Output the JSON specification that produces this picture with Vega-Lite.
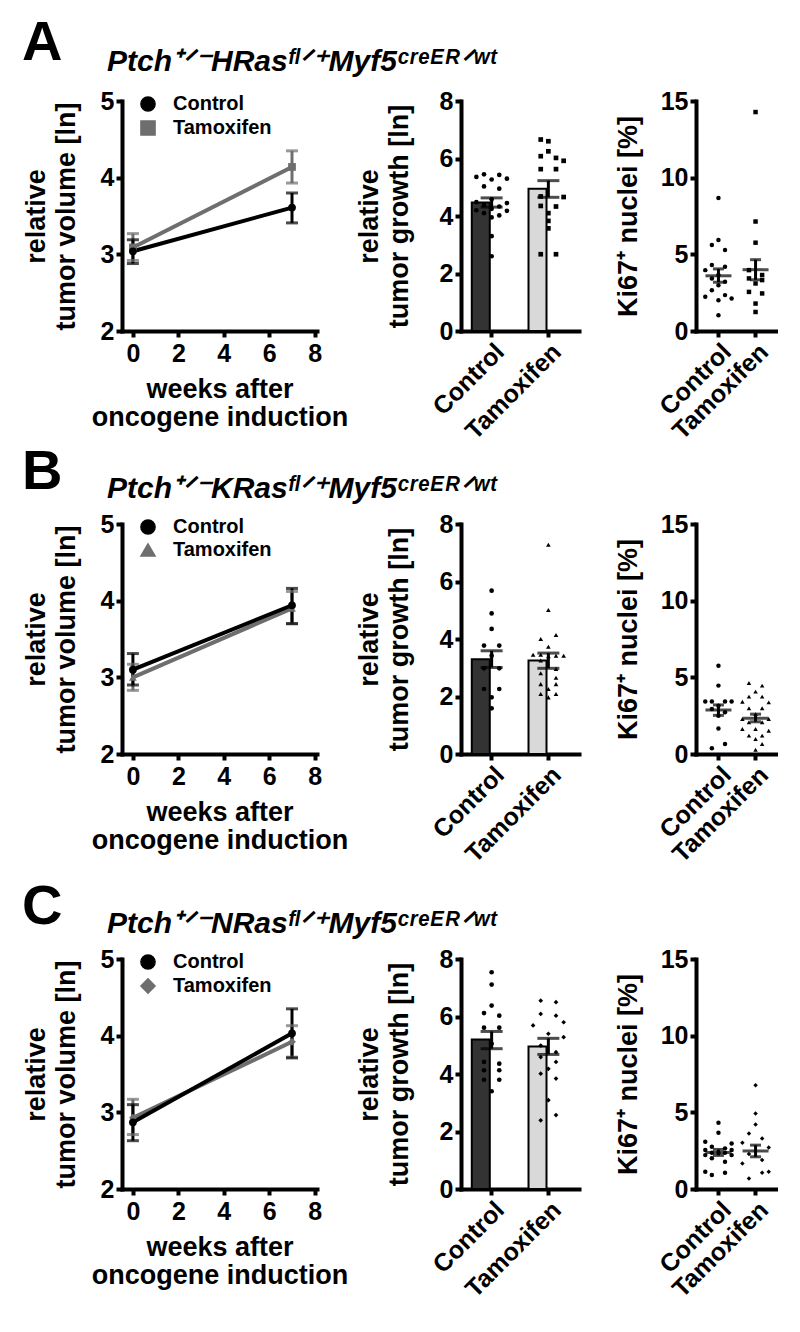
{
"$schema":"https://vega.github.io/schema/vega-lite/v6.json",
"background":"white",
"padding":{"left":22,"top":15,"right":0,"bottom":0},
"config":{
 "font":"Liberation Sans",
 "view":{"stroke":null},
 "axis":{"domainColor":"black","domainWidth":4,"domainCap":"square","tickColor":"black","tickWidth":4,"tickSize":6,"labelColor":"black","labelFont":"Liberation Sans","labelFontSize":25,"labelFontWeight":"bold","labelPadding":2,"titleColor":"black","titleFont":"Liberation Sans","titleFontSize":27,"titleFontWeight":"bold","grid":false,"labelOverlap":false,"labelFlush":false},
 "legend":{"labelFont":"Liberation Sans","symbolOpacity":1},
 "title":{"color":"black","font":"Liberation Sans"}
},
"datasets":{
 "line":[
  {"panel":"A","group":"Tamoxifen","week":0,"mean":3.09,"lo":2.92,"hi":3.27},
  {"panel":"A","group":"Tamoxifen","week":7,"mean":4.14,"lo":3.93,"hi":4.35},
  {"panel":"A","group":"Control","week":0,"mean":3.04,"lo":2.88,"hi":3.19},
  {"panel":"A","group":"Control","week":7,"mean":3.61,"lo":3.41,"hi":3.80},
  {"panel":"B","group":"Tamoxifen","week":0,"mean":3.0,"lo":2.83,"hi":3.17},
  {"panel":"B","group":"Tamoxifen","week":7,"mean":3.9,"lo":3.7,"hi":4.12},
  {"panel":"B","group":"Control","week":0,"mean":3.1,"lo":2.9,"hi":3.31},
  {"panel":"B","group":"Control","week":7,"mean":3.94,"lo":3.7,"hi":4.16},
  {"panel":"C","group":"Tamoxifen","week":0,"mean":2.93,"lo":2.71,"hi":3.17},
  {"panel":"C","group":"Tamoxifen","week":7,"mean":3.92,"lo":3.72,"hi":4.13},
  {"panel":"C","group":"Control","week":0,"mean":2.87,"lo":2.63,"hi":3.1},
  {"panel":"C","group":"Control","week":7,"mean":4.03,"lo":3.71,"hi":4.35}
 ],
 "bar":[
  {"panel":"A","group":"Control","mean":4.47,"lo":4.31,"hi":4.63},
  {"panel":"A","group":"Tamoxifen","mean":4.95,"lo":4.65,"hi":5.23},
  {"panel":"B","group":"Control","mean":3.30,"lo":3.01,"hi":3.59},
  {"panel":"B","group":"Tamoxifen","mean":3.25,"lo":2.98,"hi":3.51},
  {"panel":"C","group":"Control","mean":5.2,"lo":4.88,"hi":5.48},
  {"panel":"C","group":"Tamoxifen","mean":4.96,"lo":4.68,"hi":5.24}
 ],
 "kis":[
  {"panel":"A","group":"Control","mean":3.6,"lo":3.18,"hi":4.05},
  {"panel":"A","group":"Tamoxifen","mean":4.0,"lo":3.34,"hi":4.65},
  {"panel":"B","group":"Control","mean":2.87,"lo":2.52,"hi":3.2},
  {"panel":"B","group":"Tamoxifen","mean":2.33,"lo":2.1,"hi":2.6},
  {"panel":"C","group":"Control","mean":2.38,"lo":2.19,"hi":2.58},
  {"panel":"C","group":"Tamoxifen","mean":2.48,"lo":2.1,"hi":2.86}
 ],
 "pts":[
  {"panel":"A","group":"Control","v":5.45,"slot":-1},{"panel":"A","group":"Control","v":5.43,"slot":1},{"panel":"A","group":"Control","v":5.36,"slot":-2},{"panel":"A","group":"Control","v":5.30,"slot":2},{"panel":"A","group":"Control","v":5.27,"slot":0},{"panel":"A","group":"Control","v":5.03,"slot":-1},{"panel":"A","group":"Control","v":4.95,"slot":1},{"panel":"A","group":"Control","v":4.58,"slot":0},{"panel":"A","group":"Control","v":4.48,"slot":-2},{"panel":"A","group":"Control","v":4.45,"slot":2},{"panel":"A","group":"Control","v":4.38,"slot":-1},{"panel":"A","group":"Control","v":4.33,"slot":1},{"panel":"A","group":"Control","v":4.25,"slot":0},{"panel":"A","group":"Control","v":4.2,"slot":-2},{"panel":"A","group":"Control","v":4.18,"slot":2},{"panel":"A","group":"Control","v":4.1,"slot":-1},{"panel":"A","group":"Control","v":4.02,"slot":1},{"panel":"A","group":"Control","v":3.95,"slot":0},{"panel":"A","group":"Control","v":3.3,"slot":0},{"panel":"A","group":"Control","v":2.6,"slot":0},
  {"panel":"A","group":"Tamoxifen","v":6.66,"slot":-1},{"panel":"A","group":"Tamoxifen","v":6.6,"slot":0},{"panel":"A","group":"Tamoxifen","v":6.25,"slot":0},{"panel":"A","group":"Tamoxifen","v":6.08,"slot":-1},{"panel":"A","group":"Tamoxifen","v":6.02,"slot":1},{"panel":"A","group":"Tamoxifen","v":5.92,"slot":2},{"panel":"A","group":"Tamoxifen","v":5.63,"slot":-1},{"panel":"A","group":"Tamoxifen","v":5.63,"slot":1},{"panel":"A","group":"Tamoxifen","v":4.68,"slot":-1},{"panel":"A","group":"Tamoxifen","v":4.66,"slot":2},{"panel":"A","group":"Tamoxifen","v":4.35,"slot":-1},{"panel":"A","group":"Tamoxifen","v":4.33,"slot":1},{"panel":"A","group":"Tamoxifen","v":4.1,"slot":0},{"panel":"A","group":"Tamoxifen","v":3.83,"slot":0},{"panel":"A","group":"Tamoxifen","v":3.57,"slot":0},{"panel":"A","group":"Tamoxifen","v":2.67,"slot":-1},{"panel":"A","group":"Tamoxifen","v":2.67,"slot":1},
  {"panel":"B","group":"Control","v":5.68,"slot":0},{"panel":"B","group":"Control","v":4.89,"slot":0},{"panel":"B","group":"Control","v":4.35,"slot":0},{"panel":"B","group":"Control","v":3.77,"slot":-1},{"panel":"B","group":"Control","v":3.77,"slot":1},{"panel":"B","group":"Control","v":3.42,"slot":0},{"panel":"B","group":"Control","v":2.98,"slot":-1},{"panel":"B","group":"Control","v":2.98,"slot":1},{"panel":"B","group":"Control","v":2.26,"slot":-1},{"panel":"B","group":"Control","v":2.26,"slot":1},{"panel":"B","group":"Control","v":1.97,"slot":0},{"panel":"B","group":"Control","v":1.59,"slot":0},
  {"panel":"B","group":"Tamoxifen","v":7.28,"slot":0},{"panel":"B","group":"Tamoxifen","v":5.01,"slot":0},{"panel":"B","group":"Tamoxifen","v":4.14,"slot":1},{"panel":"B","group":"Tamoxifen","v":4.0,"slot":-1},{"panel":"B","group":"Tamoxifen","v":3.73,"slot":0},{"panel":"B","group":"Tamoxifen","v":3.45,"slot":-2},{"panel":"B","group":"Tamoxifen","v":3.45,"slot":-1},{"panel":"B","group":"Tamoxifen","v":3.42,"slot":1},{"panel":"B","group":"Tamoxifen","v":3.42,"slot":2},{"panel":"B","group":"Tamoxifen","v":3.40,"slot":0},{"panel":"B","group":"Tamoxifen","v":3.25,"slot":-1},{"panel":"B","group":"Tamoxifen","v":2.96,"slot":1},{"panel":"B","group":"Tamoxifen","v":2.81,"slot":-1},{"panel":"B","group":"Tamoxifen","v":2.65,"slot":1},{"panel":"B","group":"Tamoxifen","v":2.43,"slot":-1},{"panel":"B","group":"Tamoxifen","v":2.43,"slot":1},{"panel":"B","group":"Tamoxifen","v":2.26,"slot":0},{"panel":"B","group":"Tamoxifen","v":2.09,"slot":-1},{"panel":"B","group":"Tamoxifen","v":2.09,"slot":1},{"panel":"B","group":"Tamoxifen","v":1.97,"slot":0},
  {"panel":"C","group":"Control","v":7.54,"slot":0},{"panel":"C","group":"Control","v":7.11,"slot":0},{"panel":"C","group":"Control","v":6.38,"slot":0},{"panel":"C","group":"Control","v":6.12,"slot":-1},{"panel":"C","group":"Control","v":6.03,"slot":1},{"panel":"C","group":"Control","v":5.61,"slot":-1},{"panel":"C","group":"Control","v":5.61,"slot":1},{"panel":"C","group":"Control","v":5.05,"slot":0},{"panel":"C","group":"Control","v":4.42,"slot":-1},{"panel":"C","group":"Control","v":4.36,"slot":1},{"panel":"C","group":"Control","v":4.13,"slot":-1},{"panel":"C","group":"Control","v":4.13,"slot":1},{"panel":"C","group":"Control","v":3.8,"slot":-1},{"panel":"C","group":"Control","v":3.8,"slot":1},{"panel":"C","group":"Control","v":3.4,"slot":0},
  {"panel":"C","group":"Tamoxifen","v":6.55,"slot":-1},{"panel":"C","group":"Tamoxifen","v":6.5,"slot":1},{"panel":"C","group":"Tamoxifen","v":6.09,"slot":-1},{"panel":"C","group":"Tamoxifen","v":6.03,"slot":1},{"panel":"C","group":"Tamoxifen","v":5.8,"slot":2},{"panel":"C","group":"Tamoxifen","v":5.69,"slot":-2},{"panel":"C","group":"Tamoxifen","v":5.4,"slot":0},{"panel":"C","group":"Tamoxifen","v":5.28,"slot":2},{"panel":"C","group":"Tamoxifen","v":4.99,"slot":-1},{"panel":"C","group":"Tamoxifen","v":4.76,"slot":1},{"panel":"C","group":"Tamoxifen","v":4.59,"slot":-1},{"panel":"C","group":"Tamoxifen","v":4.42,"slot":1},{"panel":"C","group":"Tamoxifen","v":4.18,"slot":0},{"panel":"C","group":"Tamoxifen","v":4.01,"slot":-1},{"panel":"C","group":"Tamoxifen","v":3.84,"slot":1},{"panel":"C","group":"Tamoxifen","v":3.09,"slot":0},{"panel":"C","group":"Tamoxifen","v":2.57,"slot":1},{"panel":"C","group":"Tamoxifen","v":2.39,"slot":-1}
 ],
 "ki":[
  {"panel":"A","group":"Control","v":8.67,"slot":0},{"panel":"A","group":"Control","v":5.94,"slot":0},{"panel":"A","group":"Control","v":5.61,"slot":-1},{"panel":"A","group":"Control","v":5.28,"slot":1},{"panel":"A","group":"Control","v":4.30,"slot":-1},{"panel":"A","group":"Control","v":4.19,"slot":1},{"panel":"A","group":"Control","v":3.97,"slot":-2},{"panel":"A","group":"Control","v":3.65,"slot":0},{"panel":"A","group":"Control","v":3.43,"slot":-1},{"panel":"A","group":"Control","v":3.21,"slot":1},{"panel":"A","group":"Control","v":2.99,"slot":0},{"panel":"A","group":"Control","v":2.66,"slot":-1},{"panel":"A","group":"Control","v":2.34,"slot":1},{"panel":"A","group":"Control","v":2.23,"slot":-2},{"panel":"A","group":"Control","v":2.12,"slot":2},{"panel":"A","group":"Control","v":2.01,"slot":0},{"panel":"A","group":"Control","v":1.03,"slot":0},
  {"panel":"A","group":"Tamoxifen","v":14.28,"slot":0},{"panel":"A","group":"Tamoxifen","v":7.14,"slot":0},{"panel":"A","group":"Tamoxifen","v":5.76,"slot":0},{"panel":"A","group":"Tamoxifen","v":3.97,"slot":-1},{"panel":"A","group":"Tamoxifen","v":3.65,"slot":1},{"panel":"A","group":"Tamoxifen","v":3.43,"slot":-1},{"panel":"A","group":"Tamoxifen","v":3.32,"slot":1},{"panel":"A","group":"Tamoxifen","v":3.10,"slot":0},{"panel":"A","group":"Tamoxifen","v":2.55,"slot":-1},{"panel":"A","group":"Tamoxifen","v":2.45,"slot":1},{"panel":"A","group":"Tamoxifen","v":1.79,"slot":0},{"panel":"A","group":"Tamoxifen","v":1.24,"slot":0},
  {"panel":"B","group":"Control","v":5.76,"slot":0},{"panel":"B","group":"Control","v":4.46,"slot":0},{"panel":"B","group":"Control","v":3.43,"slot":-2},{"panel":"B","group":"Control","v":3.43,"slot":-1},{"panel":"B","group":"Control","v":3.43,"slot":1},{"panel":"B","group":"Control","v":3.43,"slot":2},{"panel":"B","group":"Control","v":3.15,"slot":0},{"panel":"B","group":"Control","v":2.93,"slot":-1},{"panel":"B","group":"Control","v":2.72,"slot":1},{"panel":"B","group":"Control","v":2.5,"slot":0},{"panel":"B","group":"Control","v":1.67,"slot":0},{"panel":"B","group":"Control","v":0.65,"slot":1},{"panel":"B","group":"Control","v":0.37,"slot":-1},
  {"panel":"B","group":"Tamoxifen","v":4.63,"slot":-1},{"panel":"B","group":"Tamoxifen","v":4.46,"slot":1},{"panel":"B","group":"Tamoxifen","v":4.07,"slot":0},{"panel":"B","group":"Tamoxifen","v":3.74,"slot":-1},{"panel":"B","group":"Tamoxifen","v":3.74,"slot":1},{"panel":"B","group":"Tamoxifen","v":3.41,"slot":-2},{"panel":"B","group":"Tamoxifen","v":3.37,"slot":2},{"panel":"B","group":"Tamoxifen","v":2.98,"slot":-1},{"panel":"B","group":"Tamoxifen","v":2.98,"slot":1},{"panel":"B","group":"Tamoxifen","v":2.6,"slot":0},{"panel":"B","group":"Tamoxifen","v":2.28,"slot":-2},{"panel":"B","group":"Tamoxifen","v":2.28,"slot":2},{"panel":"B","group":"Tamoxifen","v":2.07,"slot":-1},{"panel":"B","group":"Tamoxifen","v":2.07,"slot":1},{"panel":"B","group":"Tamoxifen","v":1.63,"slot":-2},{"panel":"B","group":"Tamoxifen","v":1.63,"slot":0},{"panel":"B","group":"Tamoxifen","v":1.52,"slot":2},{"panel":"B","group":"Tamoxifen","v":1.2,"slot":-1},{"panel":"B","group":"Tamoxifen","v":1.2,"slot":1},{"panel":"B","group":"Tamoxifen","v":0.98,"slot":0},{"panel":"B","group":"Tamoxifen","v":0.65,"slot":1},{"panel":"B","group":"Tamoxifen","v":0.28,"slot":0},
  {"panel":"C","group":"Control","v":4.32,"slot":0},{"panel":"C","group":"Control","v":3.67,"slot":0},{"panel":"C","group":"Control","v":3.08,"slot":-2},{"panel":"C","group":"Control","v":2.97,"slot":2},{"panel":"C","group":"Control","v":2.75,"slot":-1},{"panel":"C","group":"Control","v":2.65,"slot":1},{"panel":"C","group":"Control","v":2.54,"slot":-2},{"panel":"C","group":"Control","v":2.54,"slot":2},{"panel":"C","group":"Control","v":2.36,"slot":-1},{"panel":"C","group":"Control","v":2.36,"slot":1},{"panel":"C","group":"Control","v":2.36,"slot":0},{"panel":"C","group":"Control","v":2.21,"slot":-2},{"panel":"C","group":"Control","v":2.21,"slot":2},{"panel":"C","group":"Control","v":2.0,"slot":-1},{"panel":"C","group":"Control","v":1.78,"slot":1},{"panel":"C","group":"Control","v":1.13,"slot":-2},{"panel":"C","group":"Control","v":1.06,"slot":1},{"panel":"C","group":"Control","v":0.91,"slot":-1},
  {"panel":"C","group":"Tamoxifen","v":6.77,"slot":0},{"panel":"C","group":"Tamoxifen","v":4.92,"slot":0},{"panel":"C","group":"Tamoxifen","v":4.2,"slot":0},{"panel":"C","group":"Tamoxifen","v":3.62,"slot":-1},{"panel":"C","group":"Tamoxifen","v":3.3,"slot":1},{"panel":"C","group":"Tamoxifen","v":3.02,"slot":-2},{"panel":"C","group":"Tamoxifen","v":2.71,"slot":2},{"panel":"C","group":"Tamoxifen","v":2.28,"slot":-1},{"panel":"C","group":"Tamoxifen","v":1.89,"slot":1},{"panel":"C","group":"Tamoxifen","v":1.67,"slot":-2},{"panel":"C","group":"Tamoxifen","v":1.13,"slot":2},{"panel":"C","group":"Tamoxifen","v":1.06,"slot":1},{"panel":"C","group":"Tamoxifen","v":0.69,"slot":-1}
 ]
},
"bounds":"flush",
"spacing":423,
"resolve":{"scale":{"color":"independent","fill":"independent","shape":"independent","xOffset":"independent"},"legend":{"color":"independent","fill":"independent","shape":"independent"}},
"vconcat":[
 {
  "title":{"text":"A","anchor":"start","frame":"group","fontSize":56,"fontWeight":"bold","dx":-100,"dy":25,"offset":0},
  "bounds":"flush","spacing":144,
  "resolve":{"scale":{"color":"independent","fill":"independent","shape":"independent","xOffset":"independent"},"legend":{"color":"independent","fill":"independent","shape":"independent"}},
  "hconcat":[
   {
    "width":195,"height":230,
    "title":{"text":"Ptch\u207a\u141f\u207bHRas\u1da0\u02e1\u141f\u207aMyf5\u1d9c\u02b3\u1d49\u1d31\u1d3f\u141f\u02b7\u1d57","anchor":"start","frame":"group","dx":-15,"fontSize":30,"fontStyle":"italic","fontWeight":"bold","offset":12},
    "data":{"name":"line"},
    "transform":[{"filter":"datum.panel === 'A'"}],
    "encoding":{
     "x":{"field":"week","type":"quantitative","scale":{"domain":[-0.48,8.1],"nice":false,"zero":false},"axis":{"values":[0,2,4,6,8],"format":"d","labelPadding":4,"title":["weeks after","oncogene induction"],"titlePadding":10,"titleLineHeight":28}},
     "color":{"field":"group","type":"nominal","scale":{"domain":["Control","Tamoxifen"],"range":["#000000","#6e6e6e"]},"legend":{"orient":"none","legendX":16,"legendY":-7,"title":null,"padding":0,"rowPadding":2,"labelOffset":15,"labelFontSize":20,"labelFontWeight":"bold","labelColor":"black","symbolSize":200,"symbolOpacity":1}}
    },
    "layer":[
     {"mark":{"type":"rule","strokeWidth":3},"encoding":{"y":{"field":"lo","type":"quantitative","scale":{"domain":[2,5],"nice":false,"zero":false},"axis":{"values":[2,3,4,5],"format":"d","title":["relative","tumor volume [ln]"],"titlePadding":20,"titleLineHeight":30}},"y2":{"field":"hi"}}},
     {"mark":{"type":"tick","orient":"horizontal","size":12,"thickness":3},"encoding":{"y":{"field":"lo","type":"quantitative"}}},
     {"mark":{"type":"tick","orient":"horizontal","size":12,"thickness":3},"encoding":{"y":{"field":"hi","type":"quantitative"}}},
     {"mark":{"type":"line","strokeWidth":4},"encoding":{"y":{"field":"mean","type":"quantitative"}}},
     {"mark":{"type":"point","filled":true,"opacity":1,"size":60},"encoding":{"y":{"field":"mean","type":"quantitative"},"shape":{"field":"group","type":"nominal","scale":{"domain":["Control","Tamoxifen"],"range":["circle","square"]},"legend":null}}}
    ]
   },
   {
    "bounds":"flush","spacing":117,
    "resolve":{"scale":{"color":"independent","fill":"independent","shape":"independent","xOffset":"independent"},"legend":{"color":"independent","fill":"independent","shape":"independent"}},
    "hconcat":[
     {
      "width":118,"height":230,
      "data":{"name":"bar"},
      "transform":[{"filter":"datum.panel === 'A'"}],
      "encoding":{"x":{"field":"group","type":"nominal","scale":{"domain":["Control","Tamoxifen"],"paddingInner":0.3,"paddingOuter":0.19},"axis":{"title":null,"labelAngle":-45}}},
      "layer":[
       {"mark":{"type":"bar","stroke":"black","strokeWidth":2},"encoding":{"y":{"field":"mean","type":"quantitative","scale":{"domain":[0,8],"nice":false},"axis":{"values":[0,2,4,6,8],"format":"d","title":["relative","tumor growth [ln]"],"titlePadding":26,"titleLineHeight":30}},"fill":{"field":"group","type":"nominal","scale":{"domain":["Control","Tamoxifen"],"range":["#333333","#d9d9d9"]},"legend":null}}},
       {"data":{"name":"pts"},"transform":[{"filter":"datum.panel === 'A'"}],"mark":{"type":"point","filled":true,"color":"black","opacity":1,"size":22},"encoding":{"xOffset":{"field":"slot","type":"nominal","scale":{"domain":[-2,-1,0,1,2],"paddingInner":0,"paddingOuter":0.6}},"y":{"field":"v","type":"quantitative"},"shape":{"field":"group","type":"nominal","scale":{"domain":["Control","Tamoxifen"],"range":["circle","square"]},"legend":null}}},
       {"mark":{"type":"rule","strokeWidth":3,"color":"black"},"encoding":{"y":{"field":"lo","type":"quantitative"},"y2":{"field":"hi"}}},
       {"mark":{"type":"tick","size":22,"thickness":3,"color":"black"},"encoding":{"y":{"field":"lo","type":"quantitative"}}},
       {"mark":{"type":"tick","size":22,"thickness":3,"color":"black"},"encoding":{"y":{"field":"hi","type":"quantitative"}}}
      ]
     },
     {
      "width":82,"height":230,
      "data":{"name":"ki"},
      "transform":[{"filter":"datum.panel === 'A'"}],
      "encoding":{"x":{"field":"group","type":"nominal","scale":{"domain":["Control","Tamoxifen"],"paddingInner":0.29,"paddingOuter":0.25},"axis":{"title":null,"labelAngle":-45}}},
      "layer":[
       {"mark":{"type":"point","filled":true,"color":"black","opacity":1,"size":20},"encoding":{"xOffset":{"field":"slot","type":"nominal","scale":{"domain":[-2,-1,0,1,2],"paddingInner":0,"paddingOuter":0}},"y":{"field":"v","type":"quantitative","scale":{"domain":[0,15],"nice":false},"axis":{"values":[0,5,10,15],"format":"d","title":"Ki67\u207a nuclei [%]","titlePadding":18}},"shape":{"field":"group","type":"nominal","scale":{"domain":["Control","Tamoxifen"],"range":["circle","square"]},"legend":null}}},
       {"data":{"name":"kis"},"transform":[{"filter":"datum.panel === 'A'"}],"mark":{"type":"tick","size":26,"thickness":3,"color":"black"},"encoding":{"y":{"field":"mean","type":"quantitative"}}},
       {"data":{"name":"kis"},"transform":[{"filter":"datum.panel === 'A'"}],"mark":{"type":"rule","strokeWidth":3,"color":"black"},"encoding":{"y":{"field":"lo","type":"quantitative"},"y2":{"field":"hi"}}},
       {"data":{"name":"kis"},"transform":[{"filter":"datum.panel === 'A'"}],"mark":{"type":"tick","size":11,"thickness":3,"color":"black"},"encoding":{"y":{"field":"lo","type":"quantitative"}}},
       {"data":{"name":"kis"},"transform":[{"filter":"datum.panel === 'A'"}],"mark":{"type":"tick","size":11,"thickness":3,"color":"black"},"encoding":{"y":{"field":"hi","type":"quantitative"}}}
      ]
     }
    ]
   }
  ]
 },
 {
  "bounds":"flush","spacing":435,
  "resolve":{"scale":{"color":"independent","fill":"independent","shape":"independent","xOffset":"independent"},"legend":{"color":"independent","fill":"independent","shape":"independent"}},
  "vconcat":[
   {
    "title":{"text":"B","anchor":"start","frame":"group","fontSize":56,"fontWeight":"bold","dx":-100,"dy":27,"offset":0},
    "bounds":"flush","spacing":144,
    "resolve":{"scale":{"color":"independent","fill":"independent","shape":"independent","xOffset":"independent"},"legend":{"color":"independent","fill":"independent","shape":"independent"}},
    "hconcat":[
     {
      "width":195,"height":230,
      "title":{"text":"Ptch\u207a\u141f\u207bKRas\u1da0\u02e1\u141f\u207aMyf5\u1d9c\u02b3\u1d49\u1d31\u1d3f\u141f\u02b7\u1d57","anchor":"start","frame":"group","dx":-15,"fontSize":30,"fontStyle":"italic","fontWeight":"bold","offset":8},
      "data":{"name":"line"},
      "transform":[{"filter":"datum.panel === 'B'"}],
      "encoding":{
       "x":{"field":"week","type":"quantitative","scale":{"domain":[-0.48,8.1],"nice":false,"zero":false},"axis":{"values":[0,2,4,6,8],"format":"d","labelPadding":4,"title":["weeks after","oncogene induction"],"titlePadding":10,"titleLineHeight":28}},
       "color":{"field":"group","type":"nominal","scale":{"domain":["Control","Tamoxifen"],"range":["#000000","#6e6e6e"]},"legend":{"orient":"none","legendX":16,"legendY":-7,"title":null,"padding":0,"rowPadding":2,"labelOffset":15,"labelFontSize":20,"labelFontWeight":"bold","labelColor":"black","symbolSize":200,"symbolOpacity":1}}
      },
      "layer":[
       {"mark":{"type":"rule","strokeWidth":3},"encoding":{"y":{"field":"lo","type":"quantitative","scale":{"domain":[2,5],"nice":false,"zero":false},"axis":{"values":[2,3,4,5],"format":"d","title":["relative","tumor volume [ln]"],"titlePadding":20,"titleLineHeight":30}},"y2":{"field":"hi"}}},
       {"mark":{"type":"tick","orient":"horizontal","size":12,"thickness":3},"encoding":{"y":{"field":"lo","type":"quantitative"}}},
       {"mark":{"type":"tick","orient":"horizontal","size":12,"thickness":3},"encoding":{"y":{"field":"hi","type":"quantitative"}}},
       {"mark":{"type":"line","strokeWidth":4},"encoding":{"y":{"field":"mean","type":"quantitative"}}},
       {"mark":{"type":"point","filled":true,"opacity":1,"size":60},"encoding":{"y":{"field":"mean","type":"quantitative"},"shape":{"field":"group","type":"nominal","scale":{"domain":["Control","Tamoxifen"],"range":["circle","triangle-up"]},"legend":null}}}
      ]
     },
     {
      "bounds":"flush","spacing":117,
      "resolve":{"scale":{"color":"independent","fill":"independent","shape":"independent","xOffset":"independent"},"legend":{"color":"independent","fill":"independent","shape":"independent"}},
      "hconcat":[
       {
        "width":118,"height":230,
        "data":{"name":"bar"},
        "transform":[{"filter":"datum.panel === 'B'"}],
        "encoding":{"x":{"field":"group","type":"nominal","scale":{"domain":["Control","Tamoxifen"],"paddingInner":0.3,"paddingOuter":0.19},"axis":{"title":null,"labelAngle":-45}}},
        "layer":[
         {"mark":{"type":"bar","stroke":"black","strokeWidth":2},"encoding":{"y":{"field":"mean","type":"quantitative","scale":{"domain":[0,8],"nice":false},"axis":{"values":[0,2,4,6,8],"format":"d","title":["relative","tumor growth [ln]"],"titlePadding":26,"titleLineHeight":30}},"fill":{"field":"group","type":"nominal","scale":{"domain":["Control","Tamoxifen"],"range":["#333333","#d9d9d9"]},"legend":null}}},
         {"data":{"name":"pts"},"transform":[{"filter":"datum.panel === 'B'"}],"mark":{"type":"point","filled":true,"color":"black","opacity":1,"size":22},"encoding":{"xOffset":{"field":"slot","type":"nominal","scale":{"domain":[-2,-1,0,1,2],"paddingInner":0,"paddingOuter":0.6}},"y":{"field":"v","type":"quantitative"},"shape":{"field":"group","type":"nominal","scale":{"domain":["Control","Tamoxifen"],"range":["circle","triangle-up"]},"legend":null}}},
         {"mark":{"type":"rule","strokeWidth":3,"color":"black"},"encoding":{"y":{"field":"lo","type":"quantitative"},"y2":{"field":"hi"}}},
         {"mark":{"type":"tick","size":22,"thickness":3,"color":"black"},"encoding":{"y":{"field":"lo","type":"quantitative"}}},
         {"mark":{"type":"tick","size":22,"thickness":3,"color":"black"},"encoding":{"y":{"field":"hi","type":"quantitative"}}}
        ]
       },
       {
        "width":82,"height":230,
        "data":{"name":"ki"},
        "transform":[{"filter":"datum.panel === 'B'"}],
        "encoding":{"x":{"field":"group","type":"nominal","scale":{"domain":["Control","Tamoxifen"],"paddingInner":0.29,"paddingOuter":0.25},"axis":{"title":null,"labelAngle":-45}}},
        "layer":[
         {"mark":{"type":"point","filled":true,"color":"black","opacity":1,"size":20},"encoding":{"xOffset":{"field":"slot","type":"nominal","scale":{"domain":[-2,-1,0,1,2],"paddingInner":0,"paddingOuter":0}},"y":{"field":"v","type":"quantitative","scale":{"domain":[0,15],"nice":false},"axis":{"values":[0,5,10,15],"format":"d","title":"Ki67\u207a nuclei [%]","titlePadding":18}},"shape":{"field":"group","type":"nominal","scale":{"domain":["Control","Tamoxifen"],"range":["circle","triangle-up"]},"legend":null}}},
         {"data":{"name":"kis"},"transform":[{"filter":"datum.panel === 'B'"}],"mark":{"type":"tick","size":26,"thickness":3,"color":"black"},"encoding":{"y":{"field":"mean","type":"quantitative"}}},
         {"data":{"name":"kis"},"transform":[{"filter":"datum.panel === 'B'"}],"mark":{"type":"rule","strokeWidth":3,"color":"black"},"encoding":{"y":{"field":"lo","type":"quantitative"},"y2":{"field":"hi"}}},
         {"data":{"name":"kis"},"transform":[{"filter":"datum.panel === 'B'"}],"mark":{"type":"tick","size":11,"thickness":3,"color":"black"},"encoding":{"y":{"field":"lo","type":"quantitative"}}},
         {"data":{"name":"kis"},"transform":[{"filter":"datum.panel === 'B'"}],"mark":{"type":"tick","size":11,"thickness":3,"color":"black"},"encoding":{"y":{"field":"hi","type":"quantitative"}}}
        ]
       }
      ]
     }
    ]
   },
   {
    "title":{"text":"C","anchor":"start","frame":"group","fontSize":56,"fontWeight":"bold","dx":-100,"dy":27,"offset":0},
    "bounds":"flush","spacing":144,
    "resolve":{"scale":{"color":"independent","fill":"independent","shape":"independent","xOffset":"independent"},"legend":{"color":"independent","fill":"independent","shape":"independent"}},
    "hconcat":[
     {
      "width":195,"height":230,
      "title":{"text":"Ptch\u207a\u141f\u207bNRas\u1da0\u02e1\u141f\u207aMyf5\u1d9c\u02b3\u1d49\u1d31\u1d3f\u141f\u02b7\u1d57","anchor":"start","frame":"group","dx":-15,"fontSize":30,"fontStyle":"italic","fontWeight":"bold","offset":8},
      "data":{"name":"line"},
      "transform":[{"filter":"datum.panel === 'C'"}],
      "encoding":{
       "x":{"field":"week","type":"quantitative","scale":{"domain":[-0.48,8.1],"nice":false,"zero":false},"axis":{"values":[0,2,4,6,8],"format":"d","labelPadding":4,"title":["weeks after","oncogene induction"],"titlePadding":10,"titleLineHeight":28}},
       "color":{"field":"group","type":"nominal","scale":{"domain":["Control","Tamoxifen"],"range":["#000000","#6e6e6e"]},"legend":{"orient":"none","legendX":16,"legendY":-7,"title":null,"padding":0,"rowPadding":2,"labelOffset":15,"labelFontSize":20,"labelFontWeight":"bold","labelColor":"black","symbolSize":200,"symbolOpacity":1}}
      },
      "layer":[
       {"mark":{"type":"rule","strokeWidth":3},"encoding":{"y":{"field":"lo","type":"quantitative","scale":{"domain":[2,5],"nice":false,"zero":false},"axis":{"values":[2,3,4,5],"format":"d","title":["relative","tumor volume [ln]"],"titlePadding":20,"titleLineHeight":30}},"y2":{"field":"hi"}}},
       {"mark":{"type":"tick","orient":"horizontal","size":12,"thickness":3},"encoding":{"y":{"field":"lo","type":"quantitative"}}},
       {"mark":{"type":"tick","orient":"horizontal","size":12,"thickness":3},"encoding":{"y":{"field":"hi","type":"quantitative"}}},
       {"mark":{"type":"line","strokeWidth":4},"encoding":{"y":{"field":"mean","type":"quantitative"}}},
       {"mark":{"type":"point","filled":true,"opacity":1,"size":60},"encoding":{"y":{"field":"mean","type":"quantitative"},"shape":{"field":"group","type":"nominal","scale":{"domain":["Control","Tamoxifen"],"range":["circle","diamond"]},"legend":null}}}
      ]
     },
     {
      "bounds":"flush","spacing":117,
      "resolve":{"scale":{"color":"independent","fill":"independent","shape":"independent","xOffset":"independent"},"legend":{"color":"independent","fill":"independent","shape":"independent"}},
      "hconcat":[
       {
        "width":118,"height":230,
        "data":{"name":"bar"},
        "transform":[{"filter":"datum.panel === 'C'"}],
        "encoding":{"x":{"field":"group","type":"nominal","scale":{"domain":["Control","Tamoxifen"],"paddingInner":0.3,"paddingOuter":0.19},"axis":{"title":null,"labelAngle":-45}}},
        "layer":[
         {"mark":{"type":"bar","stroke":"black","strokeWidth":2},"encoding":{"y":{"field":"mean","type":"quantitative","scale":{"domain":[0,8],"nice":false},"axis":{"values":[0,2,4,6,8],"format":"d","title":["relative","tumor growth [ln]"],"titlePadding":26,"titleLineHeight":30}},"fill":{"field":"group","type":"nominal","scale":{"domain":["Control","Tamoxifen"],"range":["#333333","#d9d9d9"]},"legend":null}}},
         {"data":{"name":"pts"},"transform":[{"filter":"datum.panel === 'C'"}],"mark":{"type":"point","filled":true,"color":"black","opacity":1,"size":22},"encoding":{"xOffset":{"field":"slot","type":"nominal","scale":{"domain":[-2,-1,0,1,2],"paddingInner":0,"paddingOuter":0.6}},"y":{"field":"v","type":"quantitative"},"shape":{"field":"group","type":"nominal","scale":{"domain":["Control","Tamoxifen"],"range":["circle","diamond"]},"legend":null}}},
         {"mark":{"type":"rule","strokeWidth":3,"color":"black"},"encoding":{"y":{"field":"lo","type":"quantitative"},"y2":{"field":"hi"}}},
         {"mark":{"type":"tick","size":22,"thickness":3,"color":"black"},"encoding":{"y":{"field":"lo","type":"quantitative"}}},
         {"mark":{"type":"tick","size":22,"thickness":3,"color":"black"},"encoding":{"y":{"field":"hi","type":"quantitative"}}}
        ]
       },
       {
        "width":82,"height":230,
        "data":{"name":"ki"},
        "transform":[{"filter":"datum.panel === 'C'"}],
        "encoding":{"x":{"field":"group","type":"nominal","scale":{"domain":["Control","Tamoxifen"],"paddingInner":0.29,"paddingOuter":0.25},"axis":{"title":null,"labelAngle":-45}}},
        "layer":[
         {"mark":{"type":"point","filled":true,"color":"black","opacity":1,"size":20},"encoding":{"xOffset":{"field":"slot","type":"nominal","scale":{"domain":[-2,-1,0,1,2],"paddingInner":0,"paddingOuter":0}},"y":{"field":"v","type":"quantitative","scale":{"domain":[0,15],"nice":false},"axis":{"values":[0,5,10,15],"format":"d","title":"Ki67\u207a nuclei [%]","titlePadding":18}},"shape":{"field":"group","type":"nominal","scale":{"domain":["Control","Tamoxifen"],"range":["circle","diamond"]},"legend":null}}},
         {"data":{"name":"kis"},"transform":[{"filter":"datum.panel === 'C'"}],"mark":{"type":"tick","size":26,"thickness":3,"color":"black"},"encoding":{"y":{"field":"mean","type":"quantitative"}}},
         {"data":{"name":"kis"},"transform":[{"filter":"datum.panel === 'C'"}],"mark":{"type":"rule","strokeWidth":3,"color":"black"},"encoding":{"y":{"field":"lo","type":"quantitative"},"y2":{"field":"hi"}}},
         {"data":{"name":"kis"},"transform":[{"filter":"datum.panel === 'C'"}],"mark":{"type":"tick","size":11,"thickness":3,"color":"black"},"encoding":{"y":{"field":"lo","type":"quantitative"}}},
         {"data":{"name":"kis"},"transform":[{"filter":"datum.panel === 'C'"}],"mark":{"type":"tick","size":11,"thickness":3,"color":"black"},"encoding":{"y":{"field":"hi","type":"quantitative"}}}
        ]
       }
      ]
     }
    ]
   }
  ]
 }
]
}
